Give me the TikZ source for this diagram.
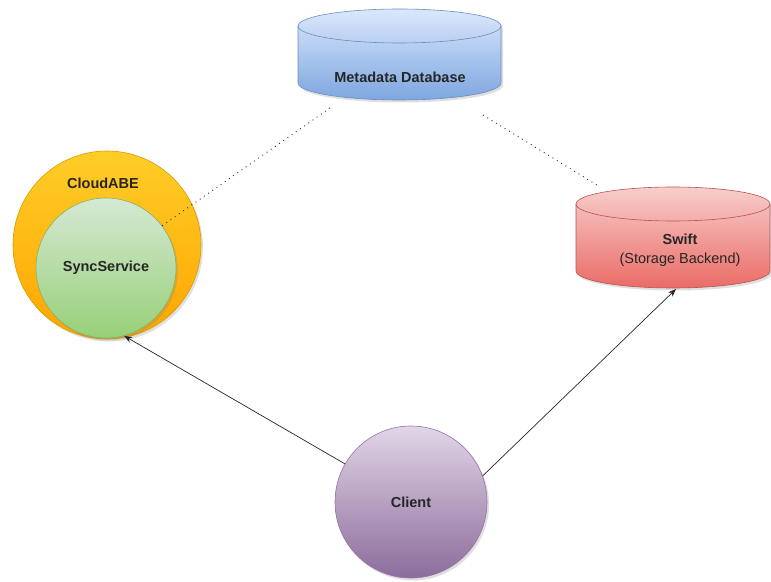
\documentclass[tikz,border=0pt]{standalone}
\usepackage{fontspec}
\setmainfont{Liberation Sans}
\usetikzlibrary{arrows.meta,shadows}
\definecolor{blueT}{HTML}{DAE8FC}\definecolor{blueB}{HTML}{7EA6E0}\definecolor{blueS}{HTML}{6C8EBF}
\definecolor{orT}{HTML}{FFCD28}\definecolor{orB}{HTML}{FFA500}\definecolor{orS}{HTML}{D79B00}
\definecolor{grT}{HTML}{D5E8D4}\definecolor{grB}{HTML}{97D077}\definecolor{grS}{HTML}{82B366}
\definecolor{rdT}{HTML}{F8CECC}\definecolor{rdB}{HTML}{EA6B66}\definecolor{rdS}{HTML}{B85450}
\definecolor{puT}{HTML}{E1D5E7}\definecolor{puB}{HTML}{8C6C9C}\definecolor{puS}{HTML}{9673A6}
\tikzset{
  shad/.style={drop shadow={opacity=0.25,shadow xshift=2pt,shadow yshift=-2.5pt}},
  lbl/.style={font=\fontsize{14.5}{19}\selectfont\bfseries,text=black!85,inner sep=0pt},
  dotline/.style={draw=black!85,line width=0.9pt,dash pattern=on 0.9pt off 4.2pt},
  arr/.style={draw=black!85,line width=0.7pt,-{Stealth[length=8pt,width=6pt]}},
  ball/.style={circle,draw,line width=0.6pt,shad,inner sep=0pt}
}
\begin{document}
\begin{tikzpicture}[x=1pt,y=1pt]
\useasboundingbox (0,0) rectangle (771,581);
% Metadata Database cylinder
\path[draw=blueS,line width=0.6pt,top color=blueT,bottom color=blueB,shad]
  (298,555) -- (298,498) arc[start angle=180,end angle=360,x radius=101.5,y radius=17]
  -- (501,555) arc[start angle=0,end angle=180,x radius=101.5,y radius=17] -- cycle;
\draw[blueS,line width=0.6pt] (298,555) arc[start angle=180,end angle=360,x radius=101.5,y radius=17];
\node[lbl] (db) at (400,504) {Metadata Database};
\coordinate (dbA) at (330,473);
\coordinate (dbB) at (483,466);
% Swift cylinder
\path[draw=rdS,line width=0.6pt,top color=rdT,bottom color=rdB,shad]
  (576,377) -- (576,310) arc[start angle=180,end angle=360,x radius=97,y radius=17]
  -- (770,377) arc[start angle=0,end angle=180,x radius=97,y radius=17] -- cycle;
\draw[rdS,line width=0.6pt] (576,377) arc[start angle=180,end angle=360,x radius=97,y radius=17];
\node[lbl,align=center] (swift) at (680,331) {Swift\\\mdseries (Storage Backend)};
\coordinate (swiftTop) at (600,394);
\coordinate (swiftBot) at (676,292);
% CloudABE and SyncService
\node[ball,draw=orS,top color=orT,bottom color=orB,minimum size=188pt] (cloud) at (107,336) {};
\node[lbl] at (103,398) {CloudABE};
\node[ball,draw=grS,top color=grT,bottom color=grB,minimum size=140pt,lbl] (sync) at (106,313) {SyncService};
% Client
\node[ball,draw=puS,top color=puT,bottom color=puB,minimum size=152pt,lbl] (client) at (411,79) {Client};
% connectors
\draw[dotline] (dbA) -- (sync.37);
\draw[dotline] (dbB) -- (swiftTop);
\draw[arr] (client.150) -- (sync.-75);
\draw[arr] (client.20) -- (swiftBot);
\end{tikzpicture}
\end{document}
